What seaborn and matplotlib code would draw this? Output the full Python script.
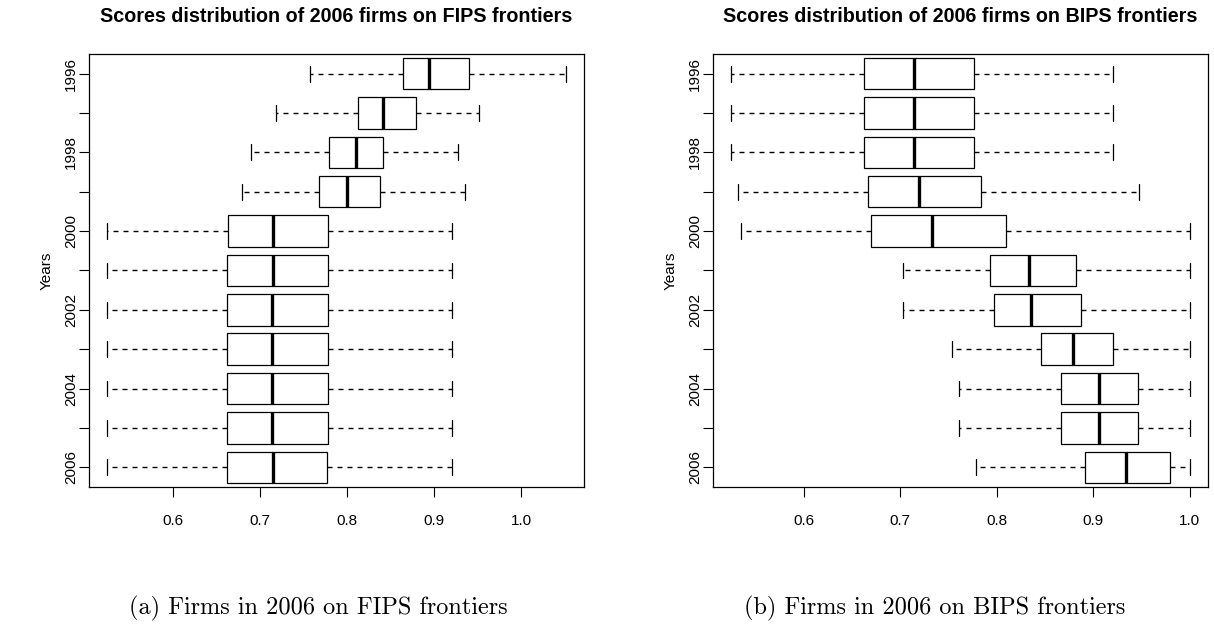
import numpy as np
import pandas as pd
import matplotlib
matplotlib.use("Agg")
import matplotlib.pyplot as plt
import seaborn as sns

# ---- data: five-number summaries ----
years = ["1996", "1997", "1998", "1999", "2000", "2001", "2002", "2003", "2004", "2005", "2006"]
year_labels = ["1996", "", "1998", "", "2000", "", "2002", "", "2004", "", "2006"]

fips_low = [0.757, 0.7175, 0.689, 0.679, 0.524, 0.524, 0.524, 0.524, 0.524, 0.524, 0.524]
fips_q1 = [0.8645, 0.8125, 0.779, 0.7677, 0.6628, 0.662, 0.662, 0.662, 0.662, 0.662, 0.662]
fips_med = [0.8936, 0.8415, 0.8094, 0.7994, 0.7149, 0.7140, 0.7133, 0.7133, 0.7133, 0.7133, 0.7145]
fips_q3 = [0.940, 0.879, 0.8415, 0.8377, 0.778, 0.778, 0.778, 0.778, 0.778, 0.778, 0.7768]
fips_high = [1.051, 0.951, 0.9277, 0.935, 0.9208, 0.9208, 0.9208, 0.9208, 0.9208, 0.9208, 0.9208]

bips_low = [0.5248, 0.5248, 0.5248, 0.5316, 0.5347, 0.7026, 0.7026, 0.7541, 0.761, 0.761, 0.7786]
bips_q1 = [0.6619, 0.6619, 0.6619, 0.6663, 0.6698, 0.7928, 0.7969, 0.8463, 0.8663, 0.867, 0.8919]
bips_med = [0.7144, 0.7144, 0.7144, 0.7199, 0.7334, 0.8332, 0.8356, 0.8795, 0.9057, 0.9057, 0.9341]
bips_q3 = [0.7766, 0.7766, 0.7766, 0.7834, 0.8093, 0.8823, 0.887, 0.9202, 0.9461, 0.9461, 0.980]
bips_high = [0.9206, 0.9206, 0.9206, 0.9479, 1.0, 1.0, 1.0, 1.0, 1.0, 1.0, 1.0]

titles = ["Scores distribution of 2006 firms on FIPS frontiers",
          "Scores distribution of 2006 firms on BIPS frontiers"]
captions = ["(a) Firms in 2006 on FIPS frontiers", "(b) Firms in 2006 on BIPS frontiers"]
xticks = [0.6, 0.7, 0.8, 0.9, 1.0]


def long_frame(low, q1, med, q3, high):
    rows = []
    for i, y in enumerate(years):
        for v in (low[i], q1[i], med[i], q3[i], high[i]):
            rows.append({"year": y, "score": v})
    return pd.DataFrame(rows)


panels = [long_frame(fips_low, fips_q1, fips_med, fips_q3, fips_high),
          long_frame(bips_low, bips_q1, bips_med, bips_q3, bips_high)]

sns.set_style("ticks")
plt.rcParams["font.family"] = ["Liberation Sans", "DejaVu Sans"]
plt.rcParams["text.color"] = "black"
plt.rcParams["axes.labelcolor"] = "black"
plt.rcParams["xtick.color"] = "black"
plt.rcParams["ytick.color"] = "black"

fig = plt.figure(figsize=(12.14, 6.34), dpi=100)
axes_rects = [[0.0733, 0.2319, 0.4077, 0.6830], [0.5873, 0.2319, 0.4077, 0.6830]]
caption_x = [0.262, 0.770]

for k, df in enumerate(panels):
    ax = fig.add_axes(axes_rects[k])
    sns.boxplot(data=df, x="score", y="year", order=years, orient="h", ax=ax,
                whis=(0, 100), width=0.8, color="white", linecolor="black",
                linewidth=0.9, showfliers=False, saturation=1,
                medianprops=dict(linewidth=2.4, color="black"),
                whiskerprops=dict(linestyle=(0, (3.6, 3.6)), linewidth=1.0, color="black"),
                capprops=dict(linewidth=0.9, color="black"))
    lo, hi = df["score"].min(), df["score"].max()
    pad = 0.04 * (hi - lo)
    ax.set_xlim(lo - pad, hi + pad)
    ax.set_ylim(len(years) - 0.5, -0.5)
    ax.set_xticks(xticks)
    ax.set_xticklabels([f"{t:.1f}" for t in xticks])
    ax.set_yticks(range(len(years)))
    ax.set_yticklabels(year_labels, rotation=90, va="center")
    ax.tick_params(axis="both", direction="out", length=7.5, width=0.8,
                   color="black", labelsize=11, labelcolor="black")
    ax.tick_params(axis="x", pad=12)
    ax.tick_params(axis="y", pad=0.5)
    ax.set_xlabel("")
    ax.set_ylabel("Years", fontsize=11, labelpad=7, color="black")
    for s in ax.spines.values():
        s.set_visible(True)
        s.set_linewidth(0.9)
        s.set_color("black")
    ax.set_title(titles[k], fontsize=14.2, fontweight="bold", pad=23, color="black")
    fig.text(caption_x[k], 0.041, captions[k], ha="center", va="center",
             fontsize=17.5, family=["cmr10", "DejaVu Serif"], color="black")

fig.savefig("out.png", dpi=100)
